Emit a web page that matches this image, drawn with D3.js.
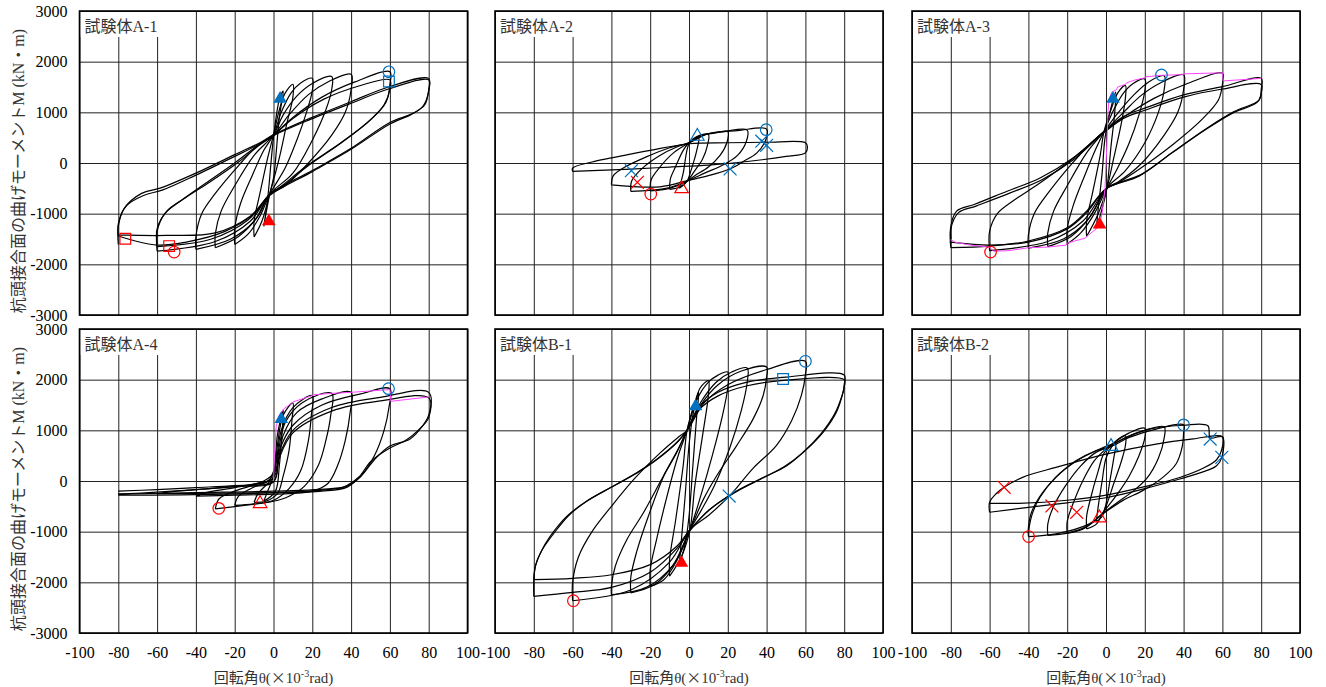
<!DOCTYPE html>
<html>
<head>
<meta charset="utf-8">
<script src="https://cdn.jsdelivr.net/npm/d3@7"></script>
<style>
  body { margin: 0; background: #fff; }
  svg { display: block; }
  text { font-family: "Liberation Serif", "Times New Roman", Times, "Noto Sans CJK JP", serif; }
</style>
</head>
<body>
<svg width="1326" height="687"></svg>
<script>
// ticks
var xTicks = [-100, -80, -60, -40, -20, 0, 20, 40, 60, 80, 100];
var yTicks = [-3000, -2000, -1000, 0, 1000, 2000, 3000];

// hysteresis loops, [theta (x10^-3 rad), M (kN*m)]
var loopsA1 = [
  [[-5,-1250],[-3,-700],[0,500],[3,1250],[5,1420],[3,900],[0,-300],[-2,-620],[-5,-1250]],
  [[-10,-1460],[-10,-1150],[-7,-600],[-3,100],[0,557],[3,1050],[6,1380],[10,1554],[10,1300],[7,800],[3,100],[-2,-620],[-6,-1150],[-10,-1460]],
  [[-20,-1610],[-20,-1300],[-17,-800],[-11,-250],[-5,250],[0,557],[4,1000],[9,1380],[14,1580],[20,1672],[20,1430],[17,1000],[12,450],[6,-100],[-2,-620],[-7,-1050],[-13,-1400],[-20,-1610]],
  [[-30,-1672],[-30,-1400],[-27,-950],[-20,-450],[-10,150],[0,557],[5,950],[12,1320],[20,1570],[30,1705],[30,1450],[27,1050],[20,450],[10,-200],[-2,-620],[-8,-1050],[-18,-1450],[-30,-1672]],
  [[-40,-1705],[-40,-1450],[-37,-1000],[-30,-600],[-18,-50],[-8,350],[0,557],[8,950],[18,1350],[28,1600],[40,1750],[40,1450],[37,1000],[30,550],[18,0],[6,-450],[-2,-620],[-10,-1150],[-22,-1500],[-40,-1705]],
  [[-60,-1740],[-60,-1350],[-56,-1000],[-48,-750],[-35,-400],[-20,0],[-8,350],[0,557],[10,900],[25,1300],[42,1600],[60,1800],[60,1550],[58,1200],[50,850],[35,400],[18,-50],[5,-450],[-2,-620],[-12,-1150],[-30,-1550],[-60,-1740]],
  [[-60,-1600],[-60,-1300],[-55,-950],[-46,-700],[-33,-380],[-18,20],[-7,360],[0,540],[10,880],[26,1260],[44,1520],[60,1640],[60,1450],[57,1150],[49,820],[34,380],[17,-60],[4,-460],[-2,-630],[-13,-1120],[-32,-1500],[-60,-1650]],
  [[-80,-1610],[-80,-1250],[-77,-900],[-68,-600],[-58,-490],[-40,-200],[-20,165],[-7,400],[0,557],[19,885],[40,1210],[60,1510],[80,1670],[80,1450],[78,1150],[72,980],[60,800],[40,290],[20,-150],[-2,-620],[-10,-1000],[-25,-1350],[-45,-1560],[-60,-1620],[-80,-1440]],
  [[-80,-1440],[-80,-1200],[-76,-850],[-67,-640],[-57,-530],[-40,-240],[-20,130],[-7,380],[0,540],[19,860],[40,1180],[60,1470],[80,1640],[80,1420],[77,1120],[71,960],[60,770],[40,270],[20,-170],[-2,-640],[-12,-1050],[-30,-1380],[-55,-1430],[-80,-1420]]
];
var loopsA2 = [
  [[-5,-500],[-3,-200],[0,380],[3,480],[5,500],[4,250],[1,-150],[-1,-360],[-5,-500]],
  [[-10,-520],[-9.5,-300],[-7,-80],[-3,250],[0,400],[4,520],[10,560],[9.5,350],[7,80],[3,-150],[-1,-360],[-5,-480],[-10,-520]],
  [[-20,-550],[-19.5,-330],[-15,-80],[-8,200],[0,400],[6,540],[13,590],[20,620],[19.5,400],[16,150],[10,-80],[3,-250],[-1,-360],[-10,-500],[-20,-550]],
  [[-30,-560],[-29.5,-350],[-24,-100],[-15,150],[-6,320],[0,400],[8,560],[18,620],[30,650],[29.5,420],[25,150],[18,-30],[8,-200],[-1,-360],[-12,-500],[-30,-560]],
  [[-40,-430],[-39,-250],[-33,-80],[-22,120],[-10,300],[0,400],[10,580],[25,640],[40,670],[39.5,450],[35,200],[28,30],[21,-118],[10,-250],[0,-340],[-15,-470],[-40,-430]],
  [[-60,-165],[-60,-100],[-50,20],[-40,100],[-20,250],[0,380],[20,400],[40,410],[60,400],[61,330],[60,200],[50,130],[30,30],[10,-40],[-10,-80],[-30,-120],[-60,-165]]
];
var loopsA3 = [
  [[-5,-1300],[-4,-900],[-2,-200],[-0.5,500],[2,1000],[5,1400],[4.5,1000],[2.5,300],[0.5,-490],[-2,-900],[-5,-1300]],
  [[-10,-1450],[-10,-1150],[-7,-600],[-3,150],[-1,623],[3,1100],[6,1380],[10,1530],[10,1280],[8,800],[4,100],[0.5,-490],[-4,-1000],[-10,-1450]],
  [[-20,-1600],[-20,-1300],[-17,-850],[-11,-250],[-5,300],[-1,623],[4,1050],[9,1380],[14,1570],[20,1660],[20,1420],[17,950],[12,400],[6,-100],[0.5,-490],[-6,-1000],[-13,-1380],[-20,-1600]],
  [[-30,-1650],[-30,-1380],[-27,-950],[-20,-450],[-10,200],[-1,623],[6,980],[14,1330],[22,1600],[30,1720],[30,1450],[27,1000],[20,400],[10,-150],[0.5,-490],[-8,-1050],[-18,-1450],[-30,-1650]],
  [[-40,-1680],[-40,-1420],[-37,-1000],[-30,-600],[-18,-30],[-8,380],[-1,623],[8,960],[18,1330],[28,1580],[40,1740],[40,1450],[37,1000],[30,550],[18,-20],[6,-380],[0.5,-490],[-10,-1150],[-22,-1500],[-40,-1680]],
  [[-60,-1730],[-60,-1350],[-56,-1000],[-48,-750],[-35,-420],[-20,0],[-8,380],[-1,623],[10,930],[25,1280],[42,1570],[60,1770],[60,1550],[58,1250],[50,880],[35,380],[18,-100],[5,-420],[0.5,-490],[-12,-1150],[-30,-1550],[-60,-1730]],
  [[-80,-1510],[-80,-1250],[-77,-950],[-68,-820],[-51,-557],[-34,-295],[-17,98],[-1,623],[9,918],[20,1082],[40,1344],[60,1508],[80,1670],[80,1450],[79,1246],[66,1016],[52,688],[35,230],[18,-230],[0.5,-492],[-10,-950],[-20,-1280],[-40,-1540],[-60,-1640],[-80,-1672]],
  [[-80,-1672],[-80,-1300],[-76,-980],[-67,-850],[-50,-600],[-33,-330],[-17,60],[-1,600],[9,880],[20,1040],[40,1300],[60,1460],[80,1550],[80,1380],[78,1200],[65,980],[51,650],[34,200],[17,-260],[0.5,-500],[-10,-980],[-20,-1300],[-40,-1560],[-60,-1620],[-80,-1560]]
];
var loopsA4 = [
  [[-5,-400],[-3,-200],[0,100],[2,900],[5,1400],[4.5,1000],[3,300],[1,-200],[-5,-400]],
  [[-10,-420],[-8,-250],[-3,-50],[0,80],[2,700],[5,1300],[10,1540],[9.5,1200],[8,600],[5,100],[2,-250],[-4,-400],[-10,-420]],
  [[-20,-480],[-18,-300],[-10,-120],[-2,20],[1,300],[4,1000],[10,1450],[20,1684],[19.5,1300],[18,800],[14,200],[8,-150],[0,-380],[-10,-450],[-20,-480]],
  [[-30,-550],[-28,-350],[-20,-200],[-10,-80],[-2,30],[2,500],[6,1150],[15,1550],[30,1730],[29.5,1300],[27,800],[23,300],[16,-100],[8,-300],[0,-400],[-15,-480],[-30,-550]],
  [[-40,-300],[-35,-230],[-20,-130],[-5,0],[1,200],[5,900],[12,1350],[25,1620],[40,1750],[39.5,1350],[37,800],[33,300],[28,-50],[20,-200],[0,-260],[-20,-280],[-40,-300]],
  [[-60,-250],[-50,-200],[-30,-140],[-10,-60],[0,60],[3,600],[10,1100],[25,1500],[45,1720],[60,1820],[59.5,1450],[57,1000],[52,500],[45,100],[38,-120],[25,-200],[0,-230],[-30,-240],[-60,-250]],
  [[-80,-200],[-60,-170],[-40,-130],[-20,-90],[0,0],[3,500],[10,1000],[30,1450],[55,1650],[80,1750],[80,1300],[75,1000],[70,820],[60,690],[52,420],[45,90],[38,-100],[30,-150],[0,-200],[-40,-230],[-80,-260]],
  [[-80,-260],[-60,-220],[-40,-170],[-20,-110],[0,-20],[3,450],[10,950],[30,1380],[55,1580],[80,1640],[80,1250],[74,980],[68,800],[60,650],[50,380],[44,80],[36,-120],[28,-170],[0,-230],[-40,-270],[-80,-280]]
];
var loopsB1 = [
  [[-5,-1650],[-4,-1200],[-2,-300],[0,700],[2,1300],[5,1750],[4,1300],[2,300],[0,-700],[-2,-1250],[-5,-1650]],
  [[-10,-1880],[-10,-1550],[-7,-800],[-3,300],[-1,1000],[3,1550],[6,1850],[10,1980],[10,1700],[7,900],[3,-100],[0.5,-960],[-4,-1500],[-10,-1880]],
  [[-20,-2080],[-20,-1750],[-17,-1200],[-12,-400],[-6,450],[-1,1000],[4,1600],[10,1950],[15,2090],[20,2150],[20,1850],[17,1250],[12,500],[6,-300],[0.5,-960],[-6,-1550],[-13,-1950],[-20,-2080]],
  [[-30,-2210],[-30,-1900],[-27,-1400],[-21,-700],[-13,100],[-6,600],[-1,1000],[6,1550],[14,1950],[22,2150],[30,2230],[30,1950],[27,1400],[21,650],[13,-100],[6,-600],[0.5,-960],[-8,-1650],[-18,-2050],[-30,-2210]],
  [[-40,-2245],[-40,-2080],[-38,-1683],[-32,-1155],[-23.5,-627],[-13.2,99],[-6.3,561],[-1,1000],[6,1500],[15,1900],[27,2170],[40,2250],[40,2050],[38.2,1683],[33,1221],[24.5,693],[14.2,99],[7.4,-363],[0.5,-960],[-8,-1650],[-22,-2100],[-40,-2245]],
  [[-60,-2363],[-60,-2000],[-57,-1500],[-50,-1000],[-40,-500],[-28,50],[-15,550],[-6,850],[-1,1000],[8,1550],[20,1900],[40,2200],[60,2363],[60,2100],[58,1700],[53,1200],[45,700],[33,250],[21,-290],[10,-680],[0.5,-960],[-10,-1600],[-30,-2150],[-60,-2363]],
  [[-80,-2277],[-80,-1947],[-79.2,-1683],[-76.6,-1419],[-71.5,-1089],[-62.9,-693],[-52.6,-396],[-38.9,-99],[-26.9,165],[-16.6,429],[-6.3,759],[-1,1000],[5,1450],[15,1750],[30,1950],[50,2050],[80,2092],[80,1900],[79.4,1749],[75.9,1353],[69,957],[58.8,561],[50.2,297],[38.2,66],[24.5,-198],[10.8,-561],[0.5,-960],[-6.3,-1287],[-20,-1650],[-40,-1850],[-60,-1920],[-80,-1947]],
  [[-80,-1947],[-79,-1650],[-76,-1380],[-70,-1050],[-62,-680],[-52,-380],[-38,-80],[-26,180],[-16,440],[-6,770],[-1,1000],[5,1400],[15,1680],[30,1880],[50,1990],[80,2000],[80,1850],[79,1700],[75,1320],[68,930],[58,540],[49,280],[37,40],[24,-220],[10,-580],[0.5,-980],[-6,-1320],[-20,-1800],[-40,-2100],[-60,-2200],[-80,-2277]]
];
var loopsB2 = [
  [[-5,-800],[-4,-500],[-2,0],[0,450],[3,680],[5,750],[4,450],[2,0],[0,-450],[-2,-700],[-5,-800]],
  [[-10,-945],[-10,-700],[-8,-350],[-4,200],[-1,550],[3,700],[6,820],[10,892],[10,700],[8,400],[4,-50],[0,-500],[-2,-650],[-5,-850],[-10,-945]],
  [[-20,-1030],[-20,-800],[-17,-450],[-12,0],[-6,400],[-1,600],[5,780],[12,950],[20,1043],[20,850],[17,500],[12,100],[6,-250],[0,-550],[-2,-650],[-10,-900],[-20,-1030]],
  [[-30,-1076],[-30,-850],[-27,-500],[-21,-100],[-13,300],[-5,570],[2,680],[10,860],[20,1000],[30,1069],[30,850],[27,450],[21,50],[14,-200],[6,-420],[-2,-650],[-12,-950],[-30,-1076]],
  [[-40,-1096],[-40,-912],[-38.7,-650],[-34.4,-321],[-25.8,72],[-15.5,400],[-5.2,597],[2.6,682],[12,860],[25.8,1023],[40,1109],[40,950],[39.2,663],[36.1,335],[29.3,72],[18.9,-190],[8.6,-387],[-1.7,-650],[-8.6,-846],[-25.8,-1043],[-40,-1096]],
  [[-40,-1000],[-38,-650],[-34,-320],[-26,72],[-15,400],[-5,600],[5,760],[20,1000],[40,1100],[52.5,1089],[53.7,850],[60,873],[59.7,466],[57,300],[50,180],[38,40],[20,-150],[0,-330],[-20,-430],[-40,-520],[-60,-617]],
  [[-60,-617],[-60,-420],[-56.8,-256],[-52.5,-125],[-43,72],[-25.8,269],[0,531],[25.8,728],[45,830],[60,873],[59.5,600],[57,420],[50,250],[38,70],[20,-110],[0,-280],[-20,-380],[-45,-440],[-60,-440]]
];

// skeleton (envelope) curves
var envA3 = [
  [[0,0],[0.5,400],[1,1000],[1.5,1250],[3,1400],[5.5,1450],[6,1500],[10,1550],[10.5,1580],[15,1640],[20,1680],[20.5,1700],[28,1730],[40,1745],[40.5,1760],[60,1780],[60.5,1620],[80,1670]],
  [[0,0],[-0.5,-500],[-2,-1000],[-3,-1150],[-5,-1300],[-10,-1450],[-10.5,-1480],[-20,-1580],[-20.5,-1620],[-30,-1660],[-40,-1672],[-50,-1730],[-58,-1740],[-60,-1660],[-70,-1620],[-78,-1560],[-80,-1510]]
];
var envA4 = [
  [[0,0],[0.5,500],[1.4,1079],[3,1300],[5.2,1421],[9.5,1540],[10,1560],[19.8,1684],[20.5,1700],[30,1730],[40,1750],[59.3,1803],[60,1810],[60.5,1573],[80,1658]]
];

// event markers: type, loading direction, theta, M
var marksA1 = [
  {type: "triF", dir: "+", t: 3.4, m: 1265}, {type: "triF", dir: "-", t: -2.4, m: -1150},
  {type: "cir", dir: "+", t: 59.5, m: 1800}, {type: "sq", dir: "+", t: 59.5, m: 1610},
  {type: "sq", dir: "-", t: -76.4, m: -1495}, {type: "sq", dir: "-", t: -53.8, m: -1640},
  {type: "cir", dir: "-", t: -51.2, m: -1757}
];
var marksA2 = [
  {type: "triO", dir: "+", t: 4.3, m: 526}, {type: "triO", dir: "-", t: -3.8, m: -507},
  {type: "cir", dir: "+", t: 39.8, m: 658}, {type: "x", dir: "+", t: 37.5, m: 430},
  {type: "x", dir: "+", t: 40, m: 350}, {type: "x", dir: "+", t: 21.2, m: -118},
  {type: "x", dir: "+", t: -29.7, m: -151}, {type: "x", dir: "-", t: -26.6, m: -382},
  {type: "cir", dir: "-", t: -19.7, m: -612}
];
var marksA3 = [
  {type: "triF", dir: "+", t: 3.6, m: 1265}, {type: "triF", dir: "-", t: -3.3, m: -1213},
  {type: "cir", dir: "+", t: 28.6, m: 1738}, {type: "cir", dir: "-", t: -59.5, m: -1757}
];
var marksA4 = [
  {type: "triF", dir: "+", t: 4, m: 1224}, {type: "triO", dir: "-", t: -6.9, m: -447},
  {type: "cir", dir: "+", t: 59.3, m: 1822}, {type: "cir", dir: "-", t: -28.2, m: -540}
];
var marksB1 = [
  {type: "triF", dir: "+", t: 3.4, m: 1472}, {type: "triF", dir: "-", t: -3.9, m: -1617},
  {type: "cir", dir: "+", t: 60, m: 2363}, {type: "sq", dir: "+", t: 48.5, m: 2013},
  {type: "x", dir: "+", t: 20.7, m: -297}, {type: "cir", dir: "-", t: -59.6, m: -2363}
];
var marksB2 = [
  {type: "triO", dir: "+", t: 2.6, m: 682}, {type: "triO", dir: "-", t: -3.4, m: -728},
  {type: "cir", dir: "+", t: 40, m: 1109}, {type: "x", dir: "+", t: 53.7, m: 827},
  {type: "x", dir: "+", t: 59.7, m: 466}, {type: "x", dir: "-", t: -52.5, m: -125},
  {type: "x", dir: "-", t: -27.9, m: -492}, {type: "x", dir: "-", t: -15.1, m: -617},
  {type: "cir", dir: "-", t: -39.9, m: -1096}
];

var names = ["試験体A-1", "試験体A-2", "試験体A-3", "試験体A-4", "試験体B-1", "試験体B-2"];
var allLoops = [loopsA1, loopsA2, loopsA3, loopsA4, loopsB1, loopsB2];
var allEnv = [[], [], envA3, envA4, [], []];
var allMarks = [marksA1, marksA2, marksA3, marksA4, marksB1, marksB2];

var svg = d3.select("svg");
var colX = [79.5, 495, 912], rowY = [11, 329], W = 388, H = 304;
var blue = "#0070c0", red = "#ff0000";
var serif = "'Liberation Serif', 'Times New Roman', Times, 'Noto Sans CJK JP', serif";
var plain = function(d) { return String(d); };

names.forEach(function(name, i) {
  var c = i % 3, r = Math.floor(i / 3);
  var left = colX[c], top = rowY[r];
  var x = d3.scaleLinear().domain([-100, 100]).range([left, left + W]);
  var y = d3.scaleLinear().domain([-3000, 3000]).range([top + H, top]);
  var g = svg.append("g");

  // grid
  g.append("g").attr("transform", "translate(0," + (top + H) + ")")
    .call(d3.axisBottom(x).tickValues(xTicks).tickSize(-H).tickFormat(""))
    .call(function(a) { a.select(".domain").remove(); a.selectAll("line").attr("stroke", "#222"); });
  g.append("g").attr("transform", "translate(" + left + ",0)")
    .call(d3.axisLeft(y).tickValues(yTicks).tickSize(-W).tickFormat(""))
    .call(function(a) { a.select(".domain").remove(); a.selectAll("line").attr("stroke", "#222"); });

  // label box
  g.append("rect").attr("x", left + 1).attr("y", top + 1).attr("width", 80).attr("height", 25).attr("fill", "#fff");
  g.append("text").attr("x", left + 5).attr("y", top + 21)
    .style("font-family", serif).attr("font-size", 16).attr("fill", "#333").text(name);

  var line = d3.line().x(function(d) { return x(d[0]); }).y(function(d) { return y(d[1]); })
    .curve(d3.curveCatmullRom.alpha(0.5));

  g.selectAll(".loop").data(allLoops[i]).enter().append("path")
    .attr("d", line).attr("fill", "none").attr("stroke", "#000").attr("stroke-width", 1.2);

  var envLine = d3.line().x(function(d) { return x(d[0]); }).y(function(d) { return y(d[1]); });
  g.selectAll(".env").data(allEnv[i]).enter().append("path")
    .attr("d", envLine).attr("fill", "none").attr("stroke", "#ff44ff").attr("stroke-width", 1);

  var symType = { triF: d3.symbolTriangle, triO: d3.symbolTriangle, cir: d3.symbolCircle, sq: d3.symbolSquare, x: d3.symbolTimes || d3.symbolX };
  var symSize = { triF: 80, triO: 80, cir: 105, sq: 115, x: 110 };
  g.selectAll(".mk").data(allMarks[i]).enter().append("path")
    .attr("transform", function(d) { return "translate(" + x(d.t) + "," + y(d.m) + ")"; })
    .attr("d", function(d) { return d3.symbol().type(symType[d.type]).size(symSize[d.type])(); })
    .attr("fill", function(d) { return d.type === "triF" ? (d.dir === "+" ? blue : red) : "none"; })
    .attr("stroke", function(d) { return d.dir === "+" ? blue : red; })
    .attr("stroke-width", function(d) { return d.type === "triF" ? 0 : 1.2; });

  // frame
  g.append("rect").attr("x", left).attr("y", top).attr("width", W).attr("height", H)
    .attr("fill", "none").attr("stroke", "#000").attr("stroke-width", 1.6);

  if (c === 0) {
    g.append("g").attr("transform", "translate(" + left + ",0)")
      .call(d3.axisLeft(y).tickValues(yTicks).tickSize(0).tickPadding(12).tickFormat(plain))
      .call(function(a) {
        a.select(".domain").remove();
        a.selectAll("text").attr("font-size", 16).attr("fill", "#000").style("font-family", serif);
      });
    g.append("text")
      .attr("transform", "translate(24," + (top + H / 2 + 8) + ") rotate(-90)")
      .attr("text-anchor", "middle").attr("font-size", 16).attr("fill", "#333")
      .style("font-family", serif)
      .text("杭頭接合面の曲げモーメントM (kN・m)");
  }
  if (r === 1) {
    g.append("g").attr("transform", "translate(0," + (top + H) + ")")
      .call(d3.axisBottom(x).tickValues(xTicks).tickSize(0).tickPadding(14).tickFormat(plain))
      .call(function(a) {
        a.select(".domain").remove();
        a.selectAll("text").attr("font-size", 16).attr("fill", "#000").style("font-family", serif);
      });
    var t = g.append("text").attr("x", left + W / 2).attr("y", 683)
      .attr("text-anchor", "middle").attr("font-size", 15).attr("fill", "#333")
      .style("font-family", serif);
    t.append("tspan").text("回転角θ(");
    t.append("tspan").style("font-family", "'Noto Sans CJK JP'").text("×");
    t.append("tspan").text("10");
    t.append("tspan").attr("font-size", 10).attr("dy", -6).text("-3");
    t.append("tspan").attr("dy", 6).text("rad)");
  }
});
</script>
</body>
</html>
